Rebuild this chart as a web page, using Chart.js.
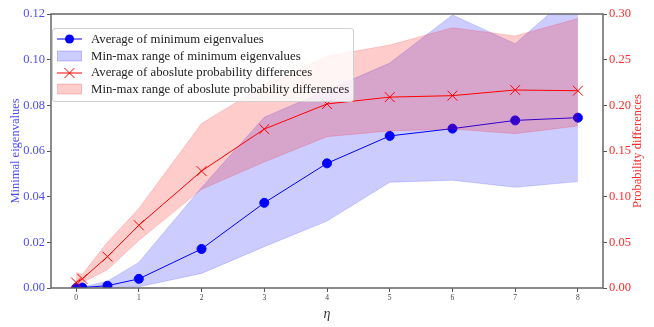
<!DOCTYPE html>
<html>
<head>
<meta charset="utf-8">
<script src="https://cdn.jsdelivr.net/npm/chart.js@4"></script>
<style>
    body { margin: 0; background: #fff; }
    #wrap { position: relative; width: 654px; height: 327px; }
    #legend {
        position: absolute; left: 52px; top: 28px; width: 300px; height: 70px;
        background: rgba(255,255,255,0.8); border: 1px solid #d0d0d0; border-radius: 3px;
        font-family: "Liberation Serif", serif; font-size: 12.8px; color: #222;
        padding-top: 2px; box-sizing: content-box;
    }
    .row { height: 16.7px; display: flex; align-items: center; white-space: nowrap; }
    .row svg { margin-left: 4px; margin-right: 9px; flex: none; }
</style>
</head>
<body>
<div id="wrap">
    <canvas id="chart" width="654" height="327"></canvas>
    <div id="legend"></div>
</div>
<script>
// --- Data ---
const etas = [0, 0.1, 0.5, 1, 2, 3, 4, 5, 6, 7, 8];

const eigAvg = [0, 0.0002, 0.001, 0.0040, 0.0171, 0.0373, 0.0546, 0.0666, 0.0698, 0.0734, 0.0746];
const eigMin = [0, 0, 0.0001, 0.0005, 0.0064, 0.0181, 0.0293, 0.0463, 0.0472, 0.0441, 0.0466];
const eigMax = [0, 0.0004, 0.003, 0.0112, 0.044, 0.0748, 0.0866, 0.0985, 0.1196, 0.107, 0.131];

const probAvg = [0.006, 0.010, 0.0343, 0.0687, 0.128, 0.174, 0.2015, 0.209, 0.2106, 0.2168, 0.216];
const probMin = [0.002, 0.006, 0.020, 0.052, 0.108, 0.138, 0.1657, 0.172, 0.174, 0.169, 0.1774];
const probMax = [0.017, 0.015, 0.050, 0.087, 0.180, 0.222, 0.254, 0.266, 0.285, 0.276, 0.295];

const xTicks = [0, 1, 2, 3, 4, 5, 6, 7, 8];
const yLeftTicks = [0, 0.02, 0.04, 0.06, 0.08, 0.10, 0.12];
const yRightTicks = [0, 0.05, 0.10, 0.15, 0.20, 0.25, 0.30];

const labels = [
    'Average of minimum eigenvalues',
    'Min-max range of minimum eigenvalues',
    'Average of aboslute probability differences',
    'Min-max range of aboslute probability differences',
];
const rightTitle = 'Probability differences';

const BLUE = '#0000ff';
const RED = '#ff0000';
const BLUE_FILL = 'rgba(0,0,255,0.2)';
const RED_FILL = 'rgba(255,0,0,0.2)';
const LEFT_TXT = '#4d4dff';
const RIGHT_TXT = '#ff2a2a';
const SERIF = '"Liberation Serif", serif';

function pts(arr) {
    return etas.map((x, i) => ({ x: x, y: arr[i] }));
}

function bandEdge(arr, axis, color, fill, order) {
    return {
        data: pts(arr),
        yAxisID: axis,
        borderColor: color,
        backgroundColor: color,
        borderWidth: 0.8,
        pointRadius: 0,
        tension: 0,
        fill: fill,
        order: order,
    };
}

// --- Spines round the plot area, plus right label read bottom-to-top like matplotlib ---
const frame = {
    id: 'frame',
    afterDatasetsDraw(chart) {
        const a = chart.chartArea;
        const ctx = chart.ctx;
        ctx.save();
        ctx.strokeStyle = '#666';
        ctx.lineWidth = 1.5;
        ctx.strokeRect(a.left, a.top, a.right - a.left, a.bottom - a.top);
        ctx.restore();
    },
    afterDraw(chart) {
        const a = chart.chartArea;
        const ctx = chart.ctx;
        ctx.save();
        ctx.translate(638, (a.top + a.bottom) / 2);
        ctx.rotate(-Math.PI / 2);
        ctx.fillStyle = RIGHT_TXT;
        ctx.font = '12.5px ' + SERIF;
        ctx.textAlign = 'center';
        ctx.textBaseline = 'middle';
        ctx.fillText(rightTitle, 0, 0);
        ctx.restore();
    },
};

const tickOpts = (color, size) => ({ color: color, font: { family: SERIF, size: size }, padding: 2 });
const gridOpts = { drawOnChartArea: false, drawTicks: true, tickLength: 4, tickColor: '#555', tickWidth: 1 };

new Chart(document.getElementById('chart').getContext('2d'), {
    type: 'line',
    data: {
        datasets: [
            bandEdge(eigMin, 'y', BLUE_FILL, false, 3),
            bandEdge(eigMax, 'y', BLUE_FILL, '-1', 3),
            {
                data: pts(eigAvg),
                yAxisID: 'y',
                borderColor: BLUE,
                backgroundColor: BLUE,
                borderWidth: 1,
                pointRadius: 4.5,
                pointStyle: 'circle',
                tension: 0,
                fill: false,
                order: 2,
            },
            bandEdge(probMin, 'y2', RED_FILL, false, 1),
            bandEdge(probMax, 'y2', RED_FILL, '-1', 1),
            {
                data: pts(probAvg),
                yAxisID: 'y2',
                borderColor: RED,
                backgroundColor: RED,
                borderWidth: 1,
                pointRadius: 7,
                pointBorderWidth: 1,
                pointStyle: 'crossRot',
                tension: 0,
                fill: false,
                order: 0,
            },
        ],
    },
    options: {
        responsive: false,
        animation: false,
        layout: { padding: { top: 14, left: 0, right: 0, bottom: 0 } },
        plugins: { legend: { display: false }, tooltip: { enabled: false } },
        scales: {
            x: {
                type: 'linear',
                min: -0.4,
                max: 8.4,
                grid: gridOpts,
                border: { display: false },
                ticks: tickOpts('#444', 7.5),
                afterBuildTicks: (s) => { s.ticks = xTicks.map((v) => ({ value: v })); },
                afterFit: (s) => { s.height = 39; },
                title: {
                    display: true, text: 'η', color: '#333',
                    font: { family: SERIF, size: 14, style: 'italic' }, padding: { top: 1 },
                },
            },
            y: {
                type: 'linear',
                position: 'left',
                min: 0,
                max: 0.12,
                grid: gridOpts,
                border: { display: false },
                ticks: { ...tickOpts(LEFT_TXT, 12.5), callback: (v) => v.toFixed(2) },
                afterBuildTicks: (s) => { s.ticks = yLeftTicks.map((v) => ({ value: v })); },
                afterFit: (s) => { s.width = 51; },
                title: {
                    display: true, text: 'Minimal eigenvalues', color: LEFT_TXT,
                    font: { family: SERIF, size: 12.5 }, padding: { top: 8, bottom: 0 },
                },
            },
            y2: {
                type: 'linear',
                position: 'right',
                min: 0,
                max: 0.30,
                grid: gridOpts,
                border: { display: false },
                ticks: { ...tickOpts(RIGHT_TXT, 12.5), callback: (v) => v.toFixed(2) },
                afterBuildTicks: (s) => { s.ticks = yRightTicks.map((v) => ({ value: v })); },
                afterFit: (s) => { s.width = 51; },
            },
        },
    },
    plugins: [frame],
});

// --- Legend (html box over the plot, like matplotlib's) ---
const swatches = [
    '<line x1="0" y1="6" x2="25" y2="6" stroke="' + BLUE + '" stroke-width="1"/><circle cx="12.5" cy="6" r="4.5" fill="' + BLUE + '"/>',
    '<rect x="0" y="1" width="25" height="10" fill="' + BLUE_FILL + '" stroke="' + BLUE_FILL + '"/>',
    '<line x1="0" y1="6" x2="25" y2="6" stroke="' + RED + '" stroke-width="1"/><path d="M7.5 1 L17.5 11 M17.5 1 L7.5 11" stroke="' + RED + '" stroke-width="1"/>',
    '<rect x="0" y="1" width="25" height="10" fill="' + RED_FILL + '" stroke="' + RED_FILL + '"/>',
];
document.getElementById('legend').innerHTML = labels.map((t, i) =>
    '<div class="row"><svg width="25" height="12">' + swatches[i] + '</svg><span>' + t + '</span></div>'
).join('');
</script>
</body>
</html>
